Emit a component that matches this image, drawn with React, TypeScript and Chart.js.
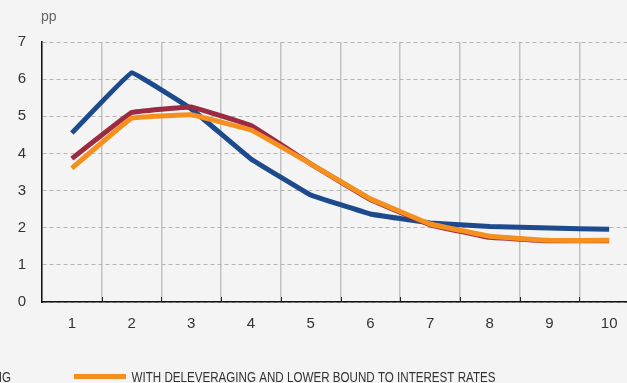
import React, { useEffect, useRef } from "react";
import { Chart, registerables } from "chart.js";

Chart.register(...registerables);

const categories = ["1", "2", "3", "4", "5", "6", "7", "8", "9", "10"];
const withoutDeleveraging = [4.55, 6.17, 5.2, 3.85, 2.88, 2.37, 2.13, 2.03, 1.99, 1.96];
const withDeleveraging = [3.86, 5.1, 5.25, 4.75, 3.72, 2.76, 2.08, 1.74, 1.65, 1.65];
const withLowerBound = [3.6, 4.95, 5.04, 4.63, 3.72, 2.78, 2.1, 1.77, 1.66, 1.66];
const seriesLabels = [
  "WITHOUT DELEVERAGING",
  "WITH DELEVERAGING",
  "WITH DELEVERAGING AND LOWER BOUND TO INTEREST RATES",
];
const seriesColors = ["#1c4a8c", "#9c2a40", "#f5901f"];
const unitLabel = "pp";
const yMin = 0;
const yMax = 7;

function condensedText(ctx: any, text: string, x: number, y: number, align: "left" | "right", targetScale: number) {
  ctx.save();
  ctx.translate(x, y);
  ctx.scale(targetScale, 1);
  ctx.textAlign = align;
  ctx.fillText(text, 0, 0);
  ctx.restore();
}

const overlay = {
  id: "overlay",
  afterDraw(chart: any) {
    const { ctx, chartArea, scales } = chart;
    const x = scales.x;
    ctx.save();
    // tick stubs on the x axis between categories
    ctx.strokeStyle = "#222";
    ctx.lineWidth = 1;
    for (let i = 1; i < categories.length; i++) {
      const px = Math.round((x.getPixelForTick(i - 1) + x.getPixelForTick(i)) / 2) + 0.5;
      ctx.beginPath();
      ctx.moveTo(px, chartArea.bottom - 5);
      ctx.lineTo(px, chartArea.bottom);
      ctx.stroke();
    }
    // unit label
    ctx.fillStyle = "#666";
    ctx.font = "14px 'Liberation Sans', Arial, sans-serif";
    ctx.textAlign = "left";
    ctx.textBaseline = "alphabetic";
    ctx.fillText(unitLabel, chartArea.left - 1, 21);
    // legend (cropped as in the reference)
    const ly = 376.5;
    ctx.font = "14px 'Liberation Sans', Arial, sans-serif";
    ctx.textBaseline = "middle";
    ctx.fillStyle = "#333";
    const s = 364 / ctx.measureText(seriesLabels[2]).width;
    const w1 = ctx.measureText(seriesLabels[1]).width * s;
    condensedText(ctx, seriesLabels[1], 11, ly + 1.5, "right", s);
    ctx.lineWidth = 5;
    ctx.strokeStyle = seriesColors[1];
    ctx.beginPath();
    ctx.moveTo(11 - w1 - 57, ly);
    ctx.lineTo(11 - w1 - 5, ly);
    ctx.stroke();
    ctx.strokeStyle = seriesColors[2];
    ctx.beginPath();
    ctx.moveTo(74, ly);
    ctx.lineTo(126, ly);
    ctx.stroke();
    condensedText(ctx, seriesLabels[2], 131.5, ly + 1.5, "left", s);
    ctx.restore();
  },
};

export default function App() {
  const ref = useRef<HTMLCanvasElement>(null);
  useEffect(() => {
    if (!ref.current) return;
    const chart = new Chart(ref.current, {
      type: "line",
      data: {
        labels: categories,
        datasets: [
          { label: seriesLabels[0], data: withoutDeleveraging, borderColor: seriesColors[0], order: 2 },
          { label: seriesLabels[1], data: withDeleveraging, borderColor: seriesColors[1], order: 1 },
          { label: seriesLabels[2], data: withLowerBound, borderColor: seriesColors[2], order: 0 },
        ].map((d) => ({
          ...d,
          borderWidth: 5,
          pointRadius: 0,
          tension: 0.05,
          fill: false,
          borderJoinStyle: "round" as const,
        })),
      },
      options: {
        responsive: false,
        animation: false,
        layout: { padding: { top: 42, left: 0, right: 0, bottom: 51 } },
        plugins: { legend: { display: false }, tooltip: { enabled: false } },
        scales: {
          x: {
            offset: true,
            grid: {
              offset: true,
              color: "#c2c2c2",
              lineWidth: 1.5,
              drawTicks: false,
            },
            border: { color: "#111", width: 1.5 },
            ticks: {
              color: "#333",
              padding: 13,
              font: { family: "'Liberation Sans', Arial, sans-serif", size: 15 },
            },
            afterFit(scale: any) {
              scale.height = 30;
            },
          },
          y: {
            min: yMin,
            max: yMax,
            grid: {
              color: "#b4b4b4",
              lineWidth: 1,
              drawTicks: false,
            },
            border: { color: "#111", width: 1.5, dash: [4, 3] },
            ticks: {
              stepSize: 1,
              color: "#333",
              padding: 16,
              font: { family: "'Liberation Sans', Arial, sans-serif", size: 15 },
            },
            afterFit(scale: any) {
              scale.width = 42;
            },
          },
        },
      },
      plugins: [overlay],
    });
    return () => chart.destroy();
  }, []);
  return (
    <div
      style={{
        position: "fixed",
        left: 0,
        top: 0,
        width: 627,
        height: 383,
        overflow: "hidden",
        background: "#f4f4f4",
      }}
    >
      <canvas ref={ref} width={639} height={383} style={{ display: "block" }} />
    </div>
  );
}
